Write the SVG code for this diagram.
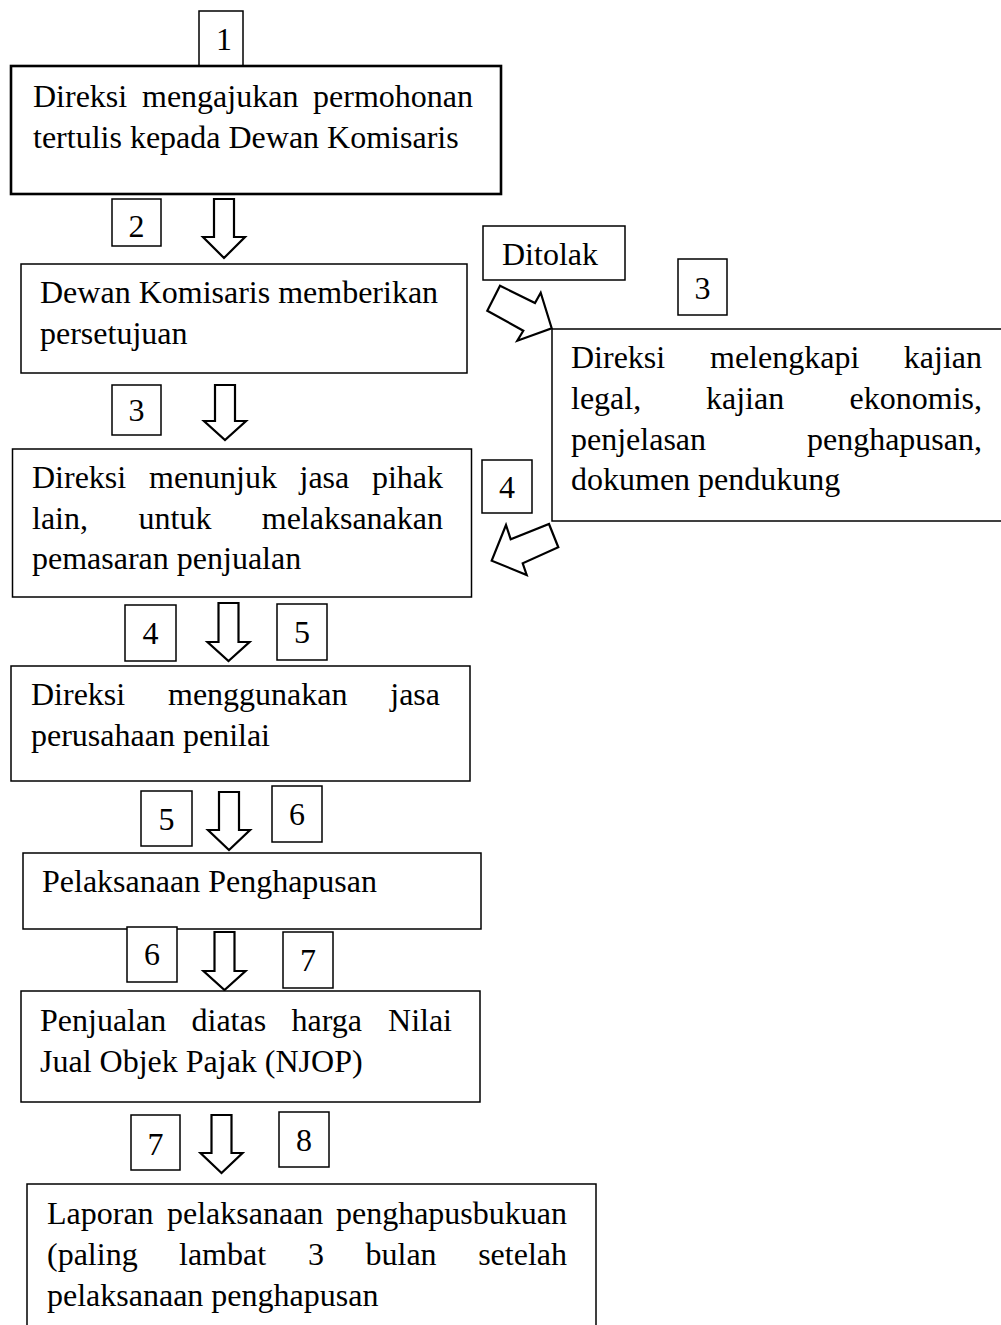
<svg xmlns="http://www.w3.org/2000/svg" width="1001" height="1325" viewBox="0 0 1001 1325">
<style>
text{font-family:"Liberation Serif","Times New Roman",serif;font-size:32px;fill:#000}
.b{fill:#fff;stroke:#000;stroke-width:1.5}
.bk{fill:#fff;stroke:#000;stroke-width:2.6}
.n{text-anchor:middle}
.e{text-anchor:end}
.ar{fill:#fff;stroke:#000;stroke-width:2.2;stroke-linejoin:miter}
</style>
<rect width="1001" height="1325" fill="#fff"/>

<g id="connectors">
<path class="ar" d="M214,199 H234 V237 H245 L224,258 L203,237 H214 Z"/>
<path class="ar" d="M215,385 H235 V421 H246 L225,440 L204,421 H215 Z"/>
<path class="ar" d="M218.5,603 H238.5 V642 H249.5 L228.5,661 L207.5,642 H218.5 Z"/>
<path class="ar" d="M219,792 H239 V830 H250 L229,850 L208,830 H219 Z"/>
<path class="ar" d="M214.5,932 H234.5 V971 H245.5 L224.5,990 L203.5,971 H214.5 Z"/>
<path class="ar" d="M211.5,1115 H231.5 V1153 H242.5 L221.5,1173 L200.5,1153 H211.5 Z"/>
<polygon class="ar" points="500,285.7 535,303 540.7,292.7 551.7,328.3 517.3,340.7 523.3,330.7 487.3,310.7"/>
<polygon class="ar" points="549,524 558.3,547.3 522.7,563.3 526.7,575 491.7,560.7 506,525 510.7,539.3"/>
</g>

<g id="num1"><rect class="b" x="199" y="11" width="44" height="55"/><text class="n" x="224" y="50">1</text></g>
<g id="step1">
<rect class="bk" x="11" y="66" width="490" height="128"/>
<text x="33" y="107">Direksi</text><text x="142" y="107">mengajukan</text><text class="e" x="473" y="107">permohonan</text>
<text x="33" y="148">tertulis kepada Dewan Komisaris</text>
</g>

<g id="num2"><rect class="b" x="112" y="199" width="49" height="47"/><text class="n" x="136.5" y="237">2</text></g>
<g id="step2">
<rect class="b" x="21" y="264" width="446" height="109"/>
<text x="40" y="303">Dewan Komisaris memberikan</text>
<text x="40" y="344">persetujuan</text>
</g>

<g id="ditolak"><rect class="b" x="483" y="226" width="142" height="54"/><text x="502" y="265">Ditolak</text></g>
<g id="num3r"><rect class="b" x="678" y="259" width="49" height="56"/><text class="n" x="702.5" y="299">3</text></g>
<g id="stepR">
<rect class="b" x="552" y="329" width="460" height="192"/>
<text x="571" y="368">Direksi</text><text x="710" y="368">melengkapi</text><text class="e" x="982" y="368">kajian</text>
<text x="571" y="409">legal,</text><text x="706" y="409">kajian</text><text class="e" x="982" y="409">ekonomis,</text>
<text x="571" y="450">penjelasan</text><text class="e" x="982" y="450">penghapusan,</text>
<text x="571" y="490">dokumen pendukung</text>
</g>
<g id="num4r"><rect class="b" x="482" y="460" width="50" height="53"/><text class="n" x="507" y="498">4</text></g>

<g id="num3"><rect class="b" x="112" y="385" width="49" height="50"/><text class="n" x="136.5" y="421">3</text></g>
<g id="step3">
<rect class="b" x="12.5" y="449" width="459" height="148"/>
<text x="32" y="488">Direksi</text><text x="149" y="488">menunjuk</text><text x="299.5" y="488">jasa</text><text class="e" x="443" y="488">pihak</text>
<text x="32" y="529">lain,</text><text x="138.5" y="529">untuk</text><text class="e" x="443" y="529">melaksanakan</text>
<text x="32" y="569">pemasaran penjualan</text>
</g>

<g id="num4"><rect class="b" x="125" y="605" width="51" height="56"/><text class="n" x="150.5" y="644">4</text></g>
<g id="num5r"><rect class="b" x="277" y="604" width="50" height="56"/><text class="n" x="302" y="643">5</text></g>
<g id="step4">
<rect class="b" x="11" y="666" width="459" height="115"/>
<text x="31" y="705">Direksi</text><text x="168" y="705">menggunakan</text><text class="e" x="440" y="705">jasa</text>
<text x="31" y="746">perusahaan penilai</text>
</g>

<g id="num5"><rect class="b" x="141" y="791" width="51" height="55"/><text class="n" x="166.5" y="830">5</text></g>
<g id="num6r"><rect class="b" x="272" y="786" width="50" height="56"/><text class="n" x="297" y="825">6</text></g>
<g id="step5">
<rect class="b" x="23" y="853" width="458" height="76"/>
<text x="42" y="892">Pelaksanaan Penghapusan</text>
</g>

<g id="num6"><rect class="b" x="127" y="927" width="50" height="55"/><text class="n" x="152" y="965">6</text></g>
<g id="num7r"><rect class="b" x="283" y="932" width="50" height="56"/><text class="n" x="308" y="971">7</text></g>
<g id="step6">
<rect class="b" x="21" y="991" width="459" height="111"/>
<text x="40" y="1031">Penjualan</text><text x="191.5" y="1031">diatas</text><text x="291.5" y="1031">harga</text><text class="e" x="452" y="1031">Nilai</text>
<text x="40" y="1072">Jual Objek Pajak (NJOP)</text>
</g>

<g id="num7"><rect class="b" x="131" y="1115" width="49" height="55"/><text class="n" x="155.5" y="1155">7</text></g>
<g id="num8"><rect class="b" x="279" y="1112" width="50" height="55"/><text class="n" x="304" y="1151">8</text></g>
<g id="step7">
<rect class="b" x="27" y="1184" width="569" height="160"/>
<text x="47" y="1224">Laporan</text><text x="167" y="1224">pelaksanaan</text><text class="e" x="567" y="1224">penghapusbukuan</text>
<text x="47" y="1265">(paling</text><text x="179" y="1265">lambat</text><text x="308" y="1265">3</text><text x="365.5" y="1265">bulan</text><text class="e" x="567" y="1265">setelah</text>
<text x="47" y="1306">pelaksanaan penghapusan</text>
</g>
</svg>
